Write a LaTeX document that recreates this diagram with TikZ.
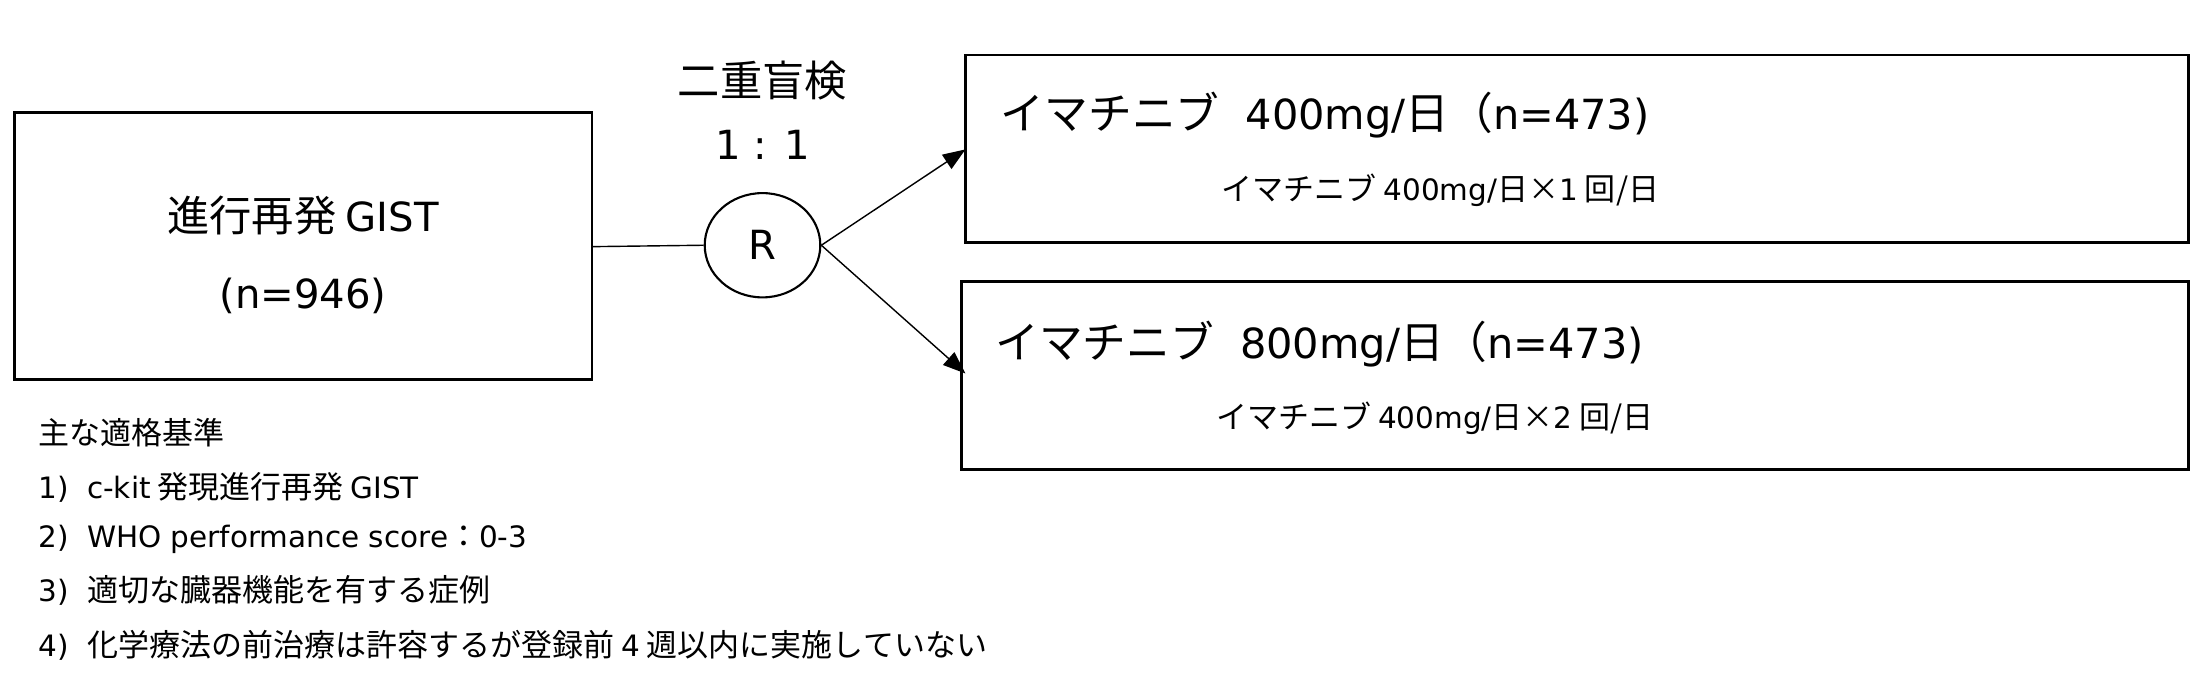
\documentclass[tikz,border=0pt]{standalone}
\usepackage{fontspec}
\setmainfont{Noto Sans CJK JP}
\newfontfamily\lt[Scale=0.95]{DejaVu Sans}
\usetikzlibrary{arrows.meta,shapes.geometric}
\begin{document}
\begin{tikzpicture}[x=1pt,y=-1pt,
  box/.style={draw,line width=2pt},
  big/.style={font=\fontsize{31}{36}\selectfont},
  mid/.style={font=\fontsize{30}{34}\selectfont},
  small/.style={font=\fontsize{22}{26}\selectfont},
  crit/.style={font=\fontsize{22}{26}\selectfont,anchor=west,inner sep=0}]
\useasboundingbox (0,0) rectangle (1568,484);
\draw[box] (10,80) rectangle (420,269);
\node[mid] (t1) at (215,153) {進行再発 {\lt GIST}};
\node[mid] (t2) at (215,210) {\lt (n=946)};
\coordinate (L) at (420,175);
\node[draw,line width=1.5pt,ellipse,minimum width=82,minimum height=74,inner sep=0,mid] (R) at (541,174) {\lt R};
\node[mid] (d1) at (541,57) {二重盲検};
\node[mid] (d2) at (541,103) {\lt 1 : 1};
\draw[line width=1pt] (L) -- (R.west);
\draw[box] (685,39) rectangle (1553,172);
\draw[box] (682,200) rectangle (1553,333);
\coordinate (A1) at (685,106);
\coordinate (A2) at (685,265);
\draw[line width=1pt,-{Triangle[length=16,width=12]}] (R.east) -- (A1);
\draw[line width=1pt,-{Triangle[length=16,width=12]}] (R.east) -- (A2);
\node[big,anchor=west,inner sep=0] (a) at (710,82) {イマチニブ\hspace{0.6em}{\lt 400mg/}日（{\lt n=473)}};
\node[small] (as) at (1022,135) {イマチニブ {\lt 400mg/}日×{\lt 1} 回/日};
\node[big,anchor=west,inner sep=0] (b) at (706,244) {イマチニブ\hspace{0.6em}{\lt 800mg/}日（{\lt n=473)}};
\node[small] (bs) at (1018,297) {イマチニブ {\lt 400mg/}日×{\lt 2} 回/日};
\node[crit] (c0) at (27,307) {主な適格基準};
\node[crit] (c1) at (27,346) {{\lt 1)}\hspace{0.6em}{\lt c-kit} 発現進行再発 {\lt GIST}};
\node[crit] (c2) at (27,383) {{\lt 2)}\hspace{0.6em}{\lt WHO performance score}：{\lt 0-3}};
\node[crit] (c3) at (27,419) {{\lt 3)}\hspace{0.6em}適切な臓器機能を有する症例};
\node[crit] (c4) at (27,458) {{\lt 4)}\hspace{0.6em}化学療法の前治療は許容するが登録前 {\lt 4} 週以内に実施していない};
\end{tikzpicture}
\end{document}
